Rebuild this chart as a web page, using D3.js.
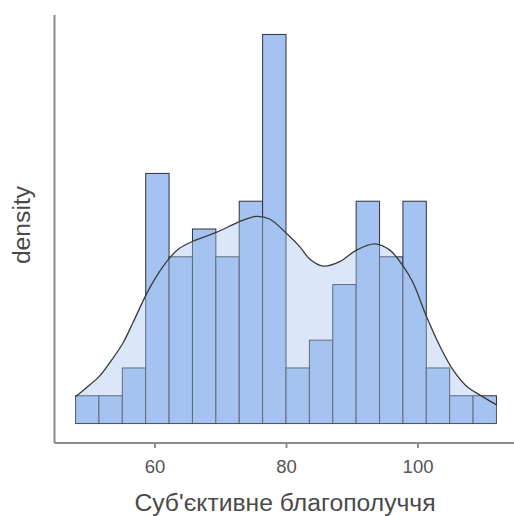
<!DOCTYPE html>
<html>
<head>
<meta charset="utf-8">
<script src="https://cdnjs.cloudflare.com/ajax/libs/d3/7.8.5/d3.min.js"></script>
<style>
  html, body { margin: 0; padding: 0; background: #fff; }
  svg { display: block; }
  text { font-family: "Liberation Sans", Arial, sans-serif; }
</style>
</head>
<body>
<svg id="chart" width="514" height="516"></svg>
<script>
// Histogram of subjective well-being scores (18 bins, 48–112)
const binStart = 48;
const binEnd = 112;
const binCounts = [1, 1, 2, 9, 6, 7, 6, 8, 14, 2, 3, 5, 8, 6, 8, 2, 1, 1];

// Kernel density estimate, sampled along the score axis
const densityX = [47.97, 49.6, 51.6, 53.15, 55.17, 56.7, 58.74, 60.26, 62.28, 63.8,
                  65.83, 69.4, 72.94, 75.49, 77.51, 80.05, 82.08, 83.6, 85.63, 88.17,
                  90.71, 93.5, 95.79, 97.81, 99.34, 101.38, 103.4, 105.43, 107.46, 109.49, 112.03];
const densityY = [0.0030, 0.0040, 0.0053, 0.0068, 0.0090, 0.0113, 0.0145, 0.0165, 0.0186, 0.0197,
                  0.0205, 0.0215, 0.0227, 0.0233, 0.0230, 0.0214, 0.0199, 0.0185, 0.0177, 0.0182,
                  0.0195, 0.0202, 0.0195, 0.0177, 0.0158, 0.0120, 0.0087, 0.0060, 0.0042, 0.0032, 0.0021];

const xTicks = [60, 80, 100];
const xTitle = "Суб'єктивне благополуччя";
const yTitle = "density";

const svg = d3.select("#chart");

const panel = { left: 54.5, right: 517.5, top: 15, bottom: 443 };

const n = d3.sum(binCounts);
const binWidth = (binEnd - binStart) / binCounts.length;
const bins = binCounts.map((c, i) => ({
  x0: binStart + i * binWidth,
  x1: binStart + (i + 1) * binWidth,
  density: c / (n * binWidth)
}));

const xPad = (binEnd - binStart) * 0.05;
const x = d3.scaleLinear()
  .domain([binStart - xPad, binEnd + xPad])
  .range([panel.left, panel.right]);

const yMax = d3.max(bins, d => d.density);
const y = d3.scaleLinear()
  .domain([-yMax * 0.05, yMax * 1.05])
  .range([panel.bottom, panel.top]);

const barFill = "#a5c3f0";

// bars
svg.append("g")
  .selectAll("rect")
  .data(bins)
  .join("rect")
  .attr("x", d => x(d.x0))
  .attr("width", d => x(d.x1) - x(d.x0))
  .attr("y", d => y(d.density))
  .attr("height", d => y(0) - y(d.density))
  .attr("fill", barFill)
  .attr("stroke", "#333")
  .attr("stroke-width", 1);

// density: translucent fill over the bars, then the outline
const pts = densityX.map((v, i) => [v, densityY[i]]);
svg.append("path")
  .datum(pts)
  .attr("d", d3.area()
    .x(d => x(d[0]))
    .y0(y(0))
    .y1(d => y(d[1]))
    .curve(d3.curveCatmullRom))
  .attr("fill", barFill)
  .attr("fill-opacity", 0.4)
  .attr("stroke", "none");

svg.append("path")
  .datum(pts)
  .attr("d", d3.line()
    .x(d => x(d[0]))
    .y(d => y(d[1]))
    .curve(d3.curveCatmullRom))
  .attr("fill", "none")
  .attr("stroke", "#3a3a3a")
  .attr("stroke-width", 1.3);

// axes
const axisColor = "#8c8c8c";
svg.append("line")
  .attr("x1", panel.left).attr("x2", panel.left)
  .attr("y1", panel.top).attr("y2", panel.bottom)
  .attr("stroke", axisColor).attr("stroke-width", 2);

const xAxis = svg.append("g")
  .attr("transform", `translate(0,${panel.bottom})`)
  .call(d3.axisBottom(x).tickValues(xTicks).tickSize(5).tickPadding(12).tickFormat(d3.format("d")));
xAxis.select(".domain")
  .attr("d", `M${panel.left},0H${panel.right}`)
  .attr("stroke", axisColor).attr("stroke-width", 2);
xAxis.selectAll(".tick line").attr("stroke", axisColor).attr("stroke-width", 2);
xAxis.selectAll(".tick text")
  .attr("fill", "#555")
  .style("font-size", "18.5px");

svg.append("text")
  .attr("x", 285)
  .attr("y", 511)
  .attr("text-anchor", "middle")
  .attr("fill", "#4a4a4a")
  .style("font-size", "24.7px")
  .text(xTitle);

svg.append("text")
  .attr("transform", `translate(30,225) rotate(-90)`)
  .attr("text-anchor", "middle")
  .attr("fill", "#4a4a4a")
  .style("font-size", "24.7px")
  .text(yTitle);
</script>
</body>
</html>
